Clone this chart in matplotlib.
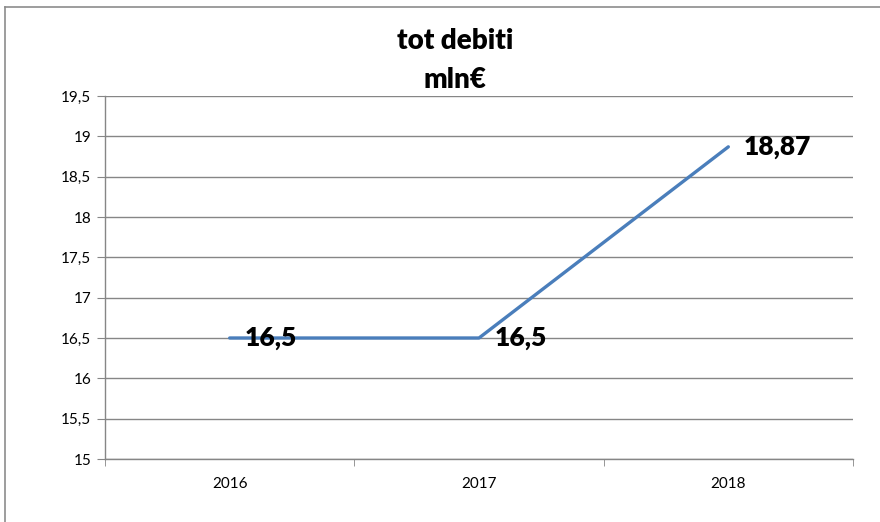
import numpy as np
import matplotlib.pyplot as plt
from matplotlib.lines import Line2D

plt.rcParams['font.family'] = ['Lato', 'DejaVu Sans']

# dati
anni = ['2016', '2017', '2018']
debiti = [16.5, 16.5, 18.87]
etichette = ['16,5', '16,5', '18,87']
y_ticks = np.arange(15, 19.51, 0.5)

x = np.arange(len(anni))

fig = plt.figure(figsize=(8.8, 5.22), dpi=100)
ax = fig.add_axes([105/880, 1-459/522, 748/880, 363/522])

grid_col = '#868686'
ax.set_ylim(15, 19.5)
ax.set_xlim(-0.5, len(anni)-0.5)
ax.set_yticks(y_ticks)
ax.set_yticklabels([('%g' % v).replace('.', ',') for v in y_ticks], fontsize=11)
ax.yaxis.grid(True, color=grid_col, linewidth=1.0)
ax.set_axisbelow(True)

ax.set_xticks(x)
ax.set_xticklabels(anni, fontsize=11)
ax.set_xticks(np.arange(-0.5, len(anni), 1), minor=True)
ax.tick_params(axis='x', which='major', length=0, pad=13)
ax.tick_params(axis='x', which='minor', length=5, color=grid_col, direction='out')
ax.tick_params(axis='y', length=6, color=grid_col, direction='out', pad=4)

for s in ['top', 'right']:
    ax.spines[s].set_visible(False)
for s in ['left', 'bottom']:
    ax.spines[s].set_color(grid_col)
    ax.spines[s].set_linewidth(1.0)

ax.plot(x, debiti, color='#4A7EBB', linewidth=2.4, solid_capstyle='round', zorder=3)

for xi, yi, t in zip(x, debiti, etichette):
    ax.annotate(t, (xi, yi), xytext=(11, 0), textcoords='offset points',
                ha='left', va='center', fontsize=19, fontweight='heavy', zorder=4)

fig.text(455/880, 1-41/522, 'tot debiti', ha='center', va='center',
         fontsize=20, fontweight='heavy')
fig.text(455/880, 1-80/522, 'mln€', ha='center', va='center',
         fontsize=20, fontweight='heavy')

# cornice del grafico
fig.add_artist(Line2D([5/880, 5/880], [0, 1-7/522], transform=fig.transFigure,
                      color='#8c8c8c', linewidth=1.2))
fig.add_artist(Line2D([5/880, 1], [1-7/522, 1-7/522], transform=fig.transFigure,
                      color='#8c8c8c', linewidth=1.2))

fig.savefig('out.png', dpi=100)
